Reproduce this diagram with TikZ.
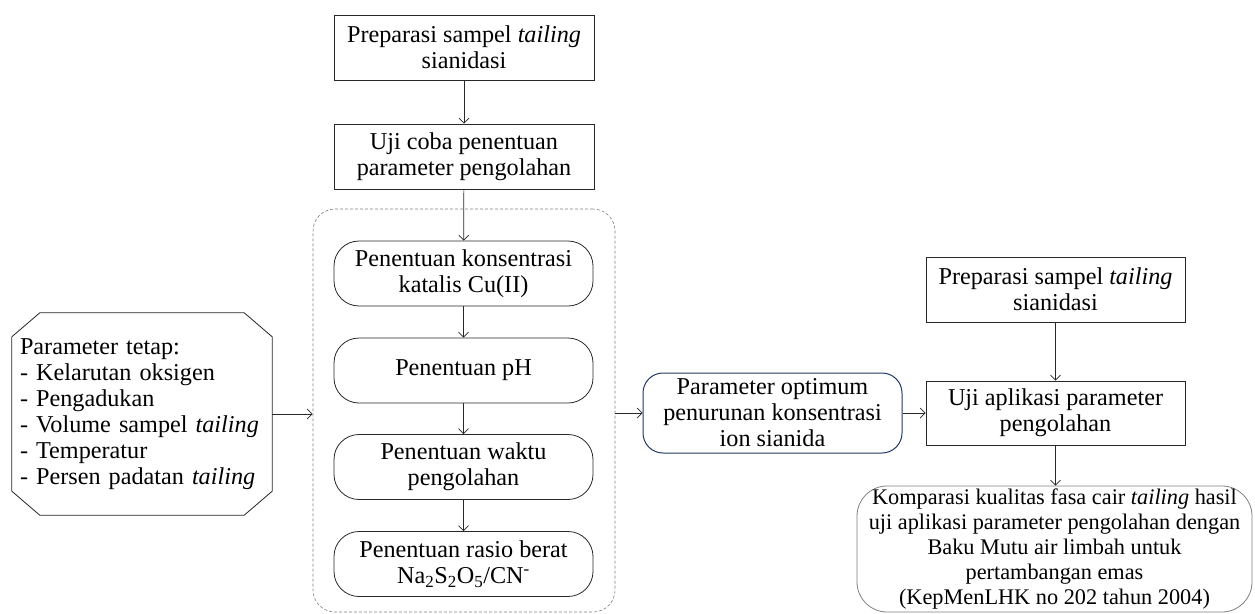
\documentclass[tikz,border=0pt]{standalone}
\usepackage{fontspec}
\setmainfont{Liberation Serif}
\usetikzlibrary{arrows.meta}
\definecolor{navy}{RGB}{31,56,100}
\definecolor{edge}{RGB}{40,40,40}
\begin{document}
\begin{tikzpicture}[x=1pt,y=-1pt,
  font=\fontsize{24.2}{26}\selectfont,
  box/.style={draw=edge, line width=0.8pt, minimum width=260pt, minimum height=65pt, align=center, inner sep=2pt},
  rbox/.style={box, rounded corners=25pt},
  arr/.style={draw=edge, line width=0.7pt, -{Straight Barb[length=5pt,width=10pt]}}]
\useasboundingbox (0,0) rectangle (1255,613);
% dashed container
\node[draw=gray, dash pattern=on 3pt off 2pt, line width=0.6pt, rounded corners=22pt,
      minimum width=302pt, minimum height=403pt] (grp) at (464,410.5) {};
% center column
\node[box] (prep1) at (464,47.5) {Preparasi sampel \textit{tailing}\\sianidasi};
\node[box] (uji1) at (464,156.5) {Uji coba penentuan\\parameter pengolahan};
\node[rbox, minimum width=259pt] (pk) at (463.5,273.5) {Penentuan konsentrasi\\katalis Cu(II)};
\node[rbox, minimum width=259pt] (ph) at (463.5,370.5) {Penentuan pH};
\node[rbox, minimum width=259pt] (wk) at (463.5,467) {Penentuan waktu\\pengolahan};
\node[rbox, minimum width=259pt] (rs) at (463.5,564) {Penentuan rasio berat\\Na\textsubscript{2}S\textsubscript{2}O\textsubscript{5}/CN\textsuperscript{-}};
% left parameter box (octagon)
\node[minimum width=260pt, minimum height=202pt, text width=244pt, inner xsep=8pt, align=left] (param) at (142,414)
  {Parameter tetap:\\- Kelarutan oksigen\\- Pengadukan\\- Volume sampel \textit{tailing}\\- Temperatur\\- Persen padatan \textit{tailing}};
\draw[draw=edge, line width=0.8pt]
  ([xshift=28pt]param.north west) -- ([xshift=-28pt]param.north east)
  -- ([yshift=-24pt]param.north east) -- ([yshift=24pt]param.south east)
  -- ([xshift=-28pt]param.south east) -- ([xshift=28pt]param.south west)
  -- ([yshift=24pt]param.south west) -- ([yshift=-24pt]param.north west) -- cycle;
% optimum box
\node[box, draw=navy, line width=1pt, rounded corners=20pt, minimum width=259pt, minimum height=80pt] (opt) at (772.5,413)
  {Parameter optimum\\penurunan konsentrasi\\ion sianida};
% right column
\node[box, minimum width=259pt] (prep2) at (1055.5,289.5) {Preparasi sampel \textit{tailing}\\sianidasi};
\node[box, minimum width=259pt, minimum height=64pt] (uji2) at (1055.5,413) {Uji aplikasi parameter\\pengolahan};
\node[box, draw=gray, rounded corners=30pt, minimum width=395pt, minimum height=126pt,
      font=\fontsize{22.3}{25}\selectfont] (komp) at (1054.5,549)
  {Komparasi kualitas fasa cair \textit{tailing} hasil\\uji aplikasi parameter pengolahan dengan\\Baku Mutu air limbah untuk\\pertambangan emas\\(KepMenLHK no 202 tahun 2004)};
% connectors
\draw[arr] (prep1) -- (uji1);
\draw[arr] (uji1) -- (pk);
\draw[arr] (pk) -- (ph);
\draw[arr] (ph) -- (wk);
\draw[arr] (wk) -- (rs);
\draw[arr] (param.east) -- (param.east -| grp.west);
\draw[arr] (opt.west -| grp.east) -- (opt.west);
\draw[arr] (opt) -- (uji2);
\draw[arr] (prep2) -- (uji2);
\draw[arr] (uji2.south) -- (uji2.south |- komp.north);
\end{tikzpicture}
\end{document}
